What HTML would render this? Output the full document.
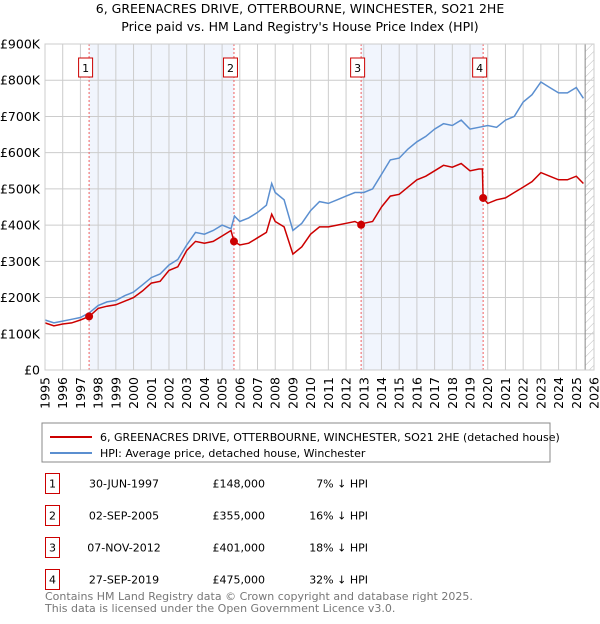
<!DOCTYPE html>
<html><head><meta charset="utf-8"><style>
body{margin:0;background:#fff;font-family:"DejaVu Sans","Liberation Sans",sans-serif;}
svg text{font-family:"DejaVu Sans","Liberation Sans",sans-serif;}
</style></head><body>
<svg id="c" width="600" height="620" xmlns="http://www.w3.org/2000/svg">
<defs><pattern id="hatch" width="6" height="6" patternUnits="userSpaceOnUse" patternTransform="rotate(45)"><line x1="0" y1="0" x2="0" y2="6" stroke="#bbb" stroke-width="1"/></pattern></defs>
<text x="300" y="13" text-anchor="middle" font-size="12.5">6, GREENACRES DRIVE, OTTERBOURNE, WINCHESTER, SO21 2HE</text>
<text x="300" y="31" text-anchor="middle" font-size="12.5">Price paid vs. HM Land Registry's House Price Index (HPI)</text>
<g id="plot"></g>
<rect x="42" y="423" width="508" height="39" fill="#fff" stroke="#888"/>
<line x1="50" y1="437" x2="92" y2="437" stroke="#cc0000" stroke-width="2"/>
<text x="100" y="441" font-size="11">6, GREENACRES DRIVE, OTTERBOURNE, WINCHESTER, SO21 2HE (detached house)</text>
<line x1="50" y1="453" x2="92" y2="453" stroke="#5b8fd0" stroke-width="2"/>
<text x="100" y="457" font-size="11">HPI: Average price, detached house, Winchester</text>
<g id="tbl"></g>
<text x="45" y="600" font-size="11" fill="#777">Contains HM Land Registry data © Crown copyright and database right 2025.</text>
<text x="45" y="612" font-size="11" fill="#777">This data is licensed under the Open Government Licence v3.0.</text>
</svg>
<script>
const hpiYears=[1995,1995.5,1996,1996.5,1997,1997.5,1998,1998.5,1999,1999.5,2000,2000.5,2001,2001.5,2002,2002.5,2003,2003.5,2004,2004.5,2005,2005.5,2005.7,2006,2006.5,2007,2007.5,2007.8,2008,2008.5,2009,2009.5,2010,2010.5,2011,2011.5,2012,2012.5,2013,2013.5,2014,2014.5,2015,2015.5,2016,2016.5,2017,2017.5,2018,2018.5,2019,2019.5,2020,2020.5,2021,2021.5,2022,2022.5,2023,2023.5,2024,2024.5,2025,2025.4];
const hpiValues=[138,130,135,140,145,158,178,188,192,205,215,235,255,265,290,305,345,380,375,385,400,390,425,410,420,435,455,515,490,470,385,405,440,465,460,470,480,490,490,500,540,580,585,610,630,645,665,680,675,690,665,670,675,670,690,700,740,760,795,780,765,765,780,750];
const propYears=[1995,1995.5,1996,1996.5,1997,1997.5,1998,1998.5,1999,1999.5,2000,2000.5,2001,2001.5,2002,2002.5,2003,2003.5,2004,2004.5,2005,2005.5,2005.67,2006,2006.5,2007,2007.5,2007.8,2008,2008.5,2009,2009.5,2010,2010.5,2011,2011.5,2012,2012.5,2012.85,2013,2013.5,2014,2014.5,2015,2015.5,2016,2016.5,2017,2017.5,2018,2018.5,2019,2019.5,2019.7,2019.74,2020,2020.5,2021,2021.5,2022,2022.5,2023,2023.5,2024,2024.5,2025,2025.4];
const propValues=[130,122,127,130,138,148,170,176,180,190,200,218,240,245,275,285,330,355,350,355,370,385,355,345,350,365,380,430,410,395,320,340,375,395,395,400,405,410,401,405,410,450,480,485,505,525,535,550,565,560,570,550,555,555,475,460,470,475,490,505,520,545,535,525,525,535,515];
const saleLabels=["1","2","3","4"];
const saleYears=[1997.49,2005.67,2012.85,2019.74];
const saleValues=[148,355,401,475];
const saleDates=["30-JUN-1997","02-SEP-2005","07-NOV-2012","27-SEP-2019"];
const salePrices=["£148,000","£355,000","£401,000","£475,000"];
const salePcts=["7% ↓ HPI","16% ↓ HPI","18% ↓ HPI","32% ↓ HPI"];
const yTicks=[0,100,200,300,400,500,600,700,800,900];
const yTickLabels=["£0","£100K","£200K","£300K","£400K","£500K","£600K","£700K","£800K","£900K"];
const xTicks=[1995,1996,1997,1998,1999,2000,2001,2002,2003,2004,2005,2006,2007,2008,2009,2010,2011,2012,2013,2014,2015,2016,2017,2018,2019,2020,2021,2022,2023,2024,2025,2026];

const NS="http://www.w3.org/2000/svg";
const L=45,R=594,T=44,B=370;
const x=v=>L+(v-1995)/(2026-1995)*(R-L);
const y=v=>B-v/900*(B-T);
const plot=document.getElementById('plot');
function mk(tag,attrs,parent){const e=document.createElementNS(NS,tag);for(const k in attrs)e.setAttribute(k,attrs[k]);(parent||plot).appendChild(e);return e;}

let bg=mk('rect',{x:L,y:T,width:R-L,height:B-T,fill:'#fff'});


for(let i=0;i<saleYears.length;i+=2){
  const s=mk('rect',{x:x(saleYears[i]),y:T,width:x(saleYears[i+1])-x(saleYears[i]),height:B-T,fill:'#eef3fc',opacity:0.8});
  
  
}
const hx=x(2025.5);
const hr=mk('rect',{x:hx,y:T,width:R-hx,height:B-T,fill:'url(#hatch)'});


xTicks.forEach(t=>{
  const g=mk('line',{x1:x(t),x2:x(t),y1:T,y2:B,stroke:'#ccc','stroke-width':1});
  
  
  const tx=mk('text',{x:0,y:0,'font-size':12.5,'text-anchor':'end',transform:`translate(${x(t)+4.5},${B+7}) rotate(-90)`});
  tx.textContent=t;
  
  
});
yTicks.forEach((t,i)=>{
  const g=mk('line',{x1:L,x2:R,y1:y(t),y2:y(t),stroke:'#ccc','stroke-width':1});
  
  
  const tx=mk('text',{x:L-5,y:y(t)+4.5,'font-size':12.5,'text-anchor':'end'});
  tx.textContent=yTickLabels[i];
  
  
});
const hl=mk('line',{x1:hx,x2:hx,y1:T,y2:B,stroke:'#888','stroke-width':1});


saleYears.forEach((s,i)=>{
  const l=mk('line',{x1:x(s),x2:x(s),y1:T,y2:B,stroke:'#f06060','stroke-width':1,'stroke-dasharray':'2,2'});
  
  
  const bx=mk('rect',{x:x(s)-10.5,y:58,width:14,height:19,fill:'#fff',stroke:'#cc0000'});
  
  
  const t=mk('text',{x:x(s)-3.5,y:72,'font-size':11,'text-anchor':'middle'});
  t.textContent=saleLabels[i];
  
  
});
const hp=mk('path',{d:hpiYears.map((v,i)=>(i?'L':'M')+x(v).toFixed(1)+','+y(hpiValues[i]).toFixed(1)).join(''),fill:'none',stroke:'#5b8fd0','stroke-width':1.5});


const pp=mk('path',{d:propYears.map((v,i)=>(i?'L':'M')+x(v).toFixed(1)+','+y(propValues[i]).toFixed(1)).join(''),fill:'none',stroke:'#cc0000','stroke-width':1.5});


saleYears.forEach((s,i)=>{
  const c=mk('circle',{cx:x(s),cy:y(saleValues[i]),r:4,fill:'#cc0000'});
  
  
});
const ax=mk('rect',{x:L,y:T,width:R-L,height:B-T,fill:'none',stroke:'#ccc'});



const tbl=document.getElementById('tbl');
saleLabels.forEach((lab,i)=>{
  const yy=482+i*32;
  const b=mk('rect',{x:45.5,y:yy-8.5,width:14,height:20,fill:'#fff',stroke:'#cc0000'},tbl);
  
  
  const cols=[[52.5,'middle',lab,'table-row-number'],[124,'middle',saleDates[i],'table-row-date'],[265,'end',salePrices[i],'table-row-price'],[368,'end',salePcts[i],'table-row-hpi-diff']];
  cols.forEach(c=>{
    const t=mk('text',{x:c[0],y:yy+5.5,'font-size':11,'text-anchor':c[1]},tbl);
    t.textContent=c[2];
    
    
  });
});
</script>
</body></html>
